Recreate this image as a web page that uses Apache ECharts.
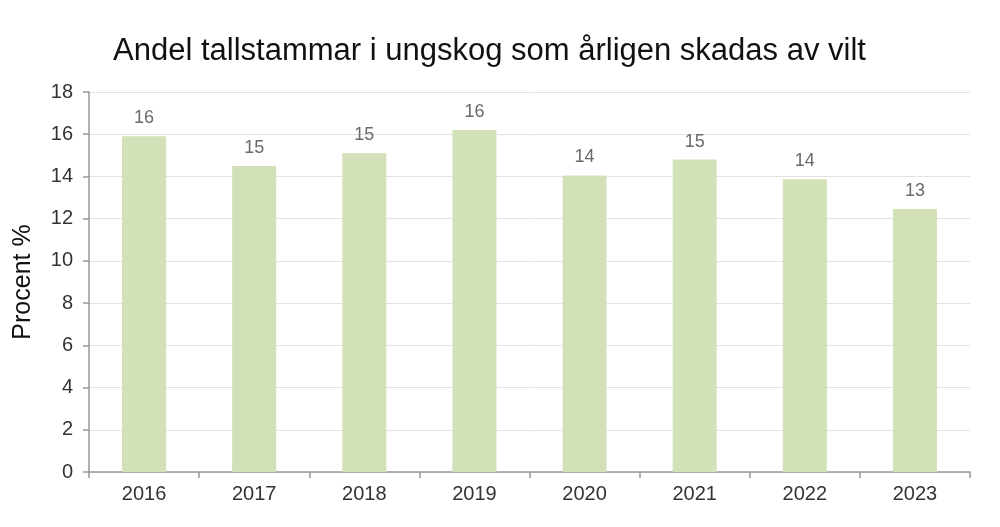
<!DOCTYPE html>
<html><head><meta charset="utf-8">
<script src="https://cdn.jsdelivr.net/npm/echarts@6/dist/echarts.min.js"></script>
<style>html,body{margin:0;padding:0;background:#fff}#c{width:1000px;height:527px}</style>
</head><body><div id="c"></div>
<script>
const categories = ['2016','2017','2018','2019','2020','2021','2022','2023'];
const values = [15.9, 14.5, 15.1, 16.2, 14.05, 14.8, 13.87, 12.46];
const valueLabels = ['16','15','15','16','14','15','14','13'];
const yTicks = {min: 0, max: 18, interval: 2};

const chart = echarts.init(document.getElementById('c'));
chart.setOption({
  animation: false,
  title: {
    text: 'Andel tallstammar i ungskog som årligen skadas av vilt',
    left: 108, top: 31,
    textStyle: {fontFamily: 'Liberation Sans, Arial', fontSize: 31, fontWeight: 'normal', color: '#111'}
  },
  grid: {left: 89, right: 30, top: 92, bottom: 55},
  xAxis: {
    type: 'category', data: categories,
    axisLine: {lineStyle: {color: '#999', width: 1.5}},
    axisTick: {show: true, alignWithLabel: false, length: 6, lineStyle: {color: '#999', width: 1.5}},
    axisLabel: {fontFamily: 'Liberation Sans, Arial', fontSize: 20, color: '#333', margin: 12}
  },
  yAxis: {
    type: 'value', min: yTicks.min, max: yTicks.max, interval: yTicks.interval,
    name: 'Procent %', nameLocation: 'middle', nameGap: 53, nameRotate: 90,
    nameTextStyle: {fontFamily: 'Liberation Sans, Arial', fontSize: 25, color: '#111'},
    axisLine: {show: true, lineStyle: {color: '#999', width: 1.5}},
    axisTick: {show: true, length: 6, lineStyle: {color: '#999', width: 1.5}},
    axisLabel: {fontFamily: 'Liberation Sans, Arial', fontSize: 20, color: '#333', margin: 16},
    splitLine: {lineStyle: {color: '#e2e2e2', width: 1}}
  },
  series: [{
    type: 'bar', data: values, barWidth: '40%',
    itemStyle: {color: '#d2e1b7'},
    label: {show: true, position: 'top', distance: 9, formatter: p => valueLabels[p.dataIndex],
      fontFamily: 'Liberation Sans, Arial', fontSize: 18, color: '#6a6a6a'}
  }]
});
</script></body></html>
